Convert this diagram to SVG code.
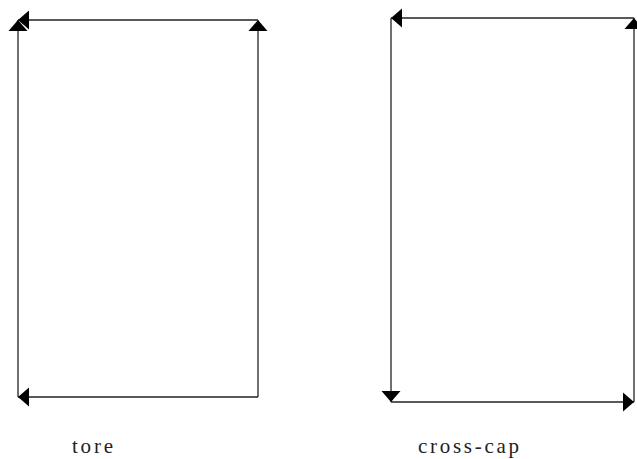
<svg xmlns="http://www.w3.org/2000/svg" width="637" height="459" viewBox="0 0 637 459">
<style>
.e{stroke:#222;stroke-width:1.3;fill:none;marker-end:url(#ah)}
.t{font-family:"Liberation Serif",serif;font-size:21px;fill:#222}
</style>
<defs>
<marker id="ah" markerUnits="userSpaceOnUse" markerWidth="12" markerHeight="20" refX="11" refY="9.5" orient="auto" overflow="visible">
<path d="M0,0 L11,9.5 L0,19 z" fill="#000"/>
</marker>
</defs>
<rect width="637" height="459" fill="#fff"/>
<g id="connectors">
<line class="e" x1="258" y1="20" x2="18" y2="20"/>
<line class="e" x1="18" y1="397" x2="18" y2="20"/>
<line class="e" x1="258" y1="397" x2="258" y2="20"/>
<line class="e" x1="258" y1="397" x2="18" y2="397"/>
<line class="e" x1="634" y1="18" x2="391" y2="18"/>
<line class="e" x1="634" y1="402" x2="634" y2="18"/>
<line class="e" x1="391" y1="18" x2="391" y2="402"/>
<line class="e" x1="391" y1="402" x2="634" y2="402"/>
</g>
<g id="tore"><text class="t" x="72" y="453" textLength="41" lengthAdjust="spacing">tore</text></g>
<g id="crosscap"><text class="t" x="418" y="453" textLength="101" lengthAdjust="spacing">cross-cap</text></g>
</svg>
